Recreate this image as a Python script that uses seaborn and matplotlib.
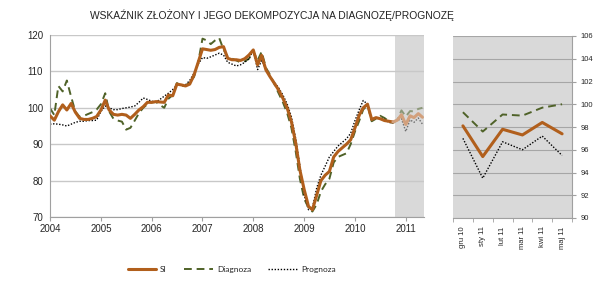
import numpy as np
import pandas as pd
import matplotlib
matplotlib.use("Agg")
import matplotlib.pyplot as plt
import matplotlib.dates as mdates
from matplotlib.lines import Line2D
import seaborn as sns

sns.set_style("white")
plt.rcParams['font.family'] = ['Liberation Sans', 'DejaVu Sans']

title = "WSKAŹNIK ZŁOŻONY I JEGO DEKOMPOZYCJA NA DIAGNOZĘ/PROGNOZĘ"
start_month = "2004-01"
n_months = 89

si = [97.8, 96.6, 98.9, 100.8, 99.4, 101.2, 98.8, 97.1, 96.8, 96.8, 97.1, 97.6,
      99.4, 102.1, 99.4, 98.2, 98.0, 98.2, 98.0, 97.1, 98.2, 99.4, 100.3, 101.5,
      101.5, 101.7, 101.6, 101.5, 103.5, 103.3, 106.5, 106.3, 106.0, 106.5, 109.0, 112.5,
      116.2, 116.0, 115.8, 116.0, 116.6, 116.8, 113.6, 113.2, 113.2, 113.0, 113.5, 114.5,
      115.9, 111.8, 114.4, 110.4, 108.5, 106.7, 104.9, 102.6, 99.9, 96.2, 90.3, 82.9,
      77.5, 72.9, 72.0, 76.0, 80.0, 81.5, 82.5, 86.5, 88.0, 89.0, 90.0, 91.2,
      94.5, 98.0, 100.0, 101.0, 96.8, 97.3, 97.0, 96.5, 96.3, 96.1, 96.6, 98.1,
      95.4, 97.8, 97.3, 98.4, 97.4]

diagnoza = [99.9, 98.0, 106.0, 104.5, 107.5, 103.0, 99.0, 97.5, 97.8, 98.3, 98.8, 99.5,
            101.0, 104.0, 99.0, 97.0, 96.5, 96.2, 94.0, 94.5, 96.5, 98.5, 100.0, 101.0,
            101.5, 101.6, 100.8, 100.0, 102.5, 103.5, 106.8, 106.0, 106.0, 107.0, 108.5, 112.5,
            119.0, 118.5, 117.5, 118.5, 119.2, 116.0, 114.0, 113.5, 113.0, 112.5, 112.8, 113.5,
            115.5, 113.0, 115.4, 111.0, 109.0, 106.5, 104.0, 101.5, 98.5, 94.5, 88.0, 80.5,
            75.0, 72.5, 71.5, 73.5, 77.0, 79.0, 80.5, 85.0, 86.5, 87.0, 87.5, 90.0,
            93.5, 96.5, 99.5, 100.8, 96.3, 97.0, 97.8, 97.2, 96.3, 95.8, 96.7, 99.3,
            97.6, 99.1, 99.0, 99.7, 100.0]

prognoza = [95.5, 95.6, 95.5, 95.3, 95.0, 95.5, 96.0, 96.3, 96.3, 96.5, 96.5, 96.6,
            99.0, 100.5, 100.0, 99.5, 99.5, 99.8, 100.0, 100.2, 100.5, 101.5, 102.7, 102.3,
            101.8, 101.6, 102.3, 103.2, 104.0, 105.0, 106.2, 106.3, 106.3, 107.5, 109.5, 112.0,
            113.8, 113.6, 114.0, 114.5, 115.0, 114.5, 112.5, 112.0, 111.5, 111.8, 112.5, 113.5,
            115.8, 110.5, 113.0, 110.5, 108.5, 107.0, 105.5, 103.5, 101.0, 97.5, 91.5, 84.0,
            76.0, 72.0, 72.5, 78.0, 81.5, 84.0, 86.5, 88.0, 89.5, 90.5, 91.5, 93.0,
            96.5, 99.5, 102.0, 101.0, 96.6, 97.2, 97.2, 96.8, 96.0, 95.8, 96.5, 97.0,
            93.5, 96.7, 96.0, 97.2, 95.5]

zoom_labels = ["gru 10", "sty 11", "lut 11", "mar 11", "kwi 11", "maj 11"]
legend_labels = ["SI", "Diagnoza", "Prognoza"]
shade_start = "2010-10-16"
shade_end = "2011-05-12"
forecast_from = 81  # index where lighter colours begin (Oct 2010)

dates = pd.date_range(start_month, periods=n_months, freq="MS")
df = pd.DataFrame({"date": dates, "SI": si, "Diagnoza": diagnoza, "Prognoza": prognoza})

c_si, c_di, c_pr = "#b15f1c", "#4f6228", "#000000"
cl_si, cl_di, cl_pr = "#d2a07c", "#8c9878", "#6e6e6e"
grid_c = "#c8c8c8"
shade_c = "#d9d9d9"

fig = plt.figure(figsize=(6.0, 2.82), dpi=100)
ax = fig.add_axes([50/600, 1-217/282, 374/600, 182/282])
ax2 = fig.add_axes([453/600, 1-218/282, 119/600, 182/282])

ax.axvspan(pd.Timestamp(shade_start), pd.Timestamp(shade_end), color=shade_c, lw=0, zorder=0)
for v in range(70, 121, 10):
    ax.axhline(v, color=grid_c, lw=1.0, zorder=0.5)

styles = [("SI", c_si, cl_si, "-", 2.2), ("Diagnoza", c_di, cl_di, (0, (4, 2.5)), 1.4),
          ("Prognoza", c_pr, cl_pr, (0, (1, 1.2)), 1.0)]
for col, c, cl, ls, lw in styles:
    d1 = df.iloc[:forecast_from + 1]
    d2 = df.iloc[forecast_from:]
    z = 3 if col == "SI" else 2
    sns.lineplot(data=d1, x="date", y=col, ax=ax, color=c, lw=lw, linestyle=ls, zorder=z)
    sns.lineplot(data=d2, x="date", y=col, ax=ax, color=cl, lw=lw, linestyle=ls, zorder=z)

ax.set_xlim(pd.Timestamp("2004-01-01"), pd.Timestamp(shade_end))
ax.set_ylim(70, 120)
ax.set_yticks(range(70, 121, 10))
ax.xaxis.set_major_locator(mdates.YearLocator())
ax.xaxis.set_major_formatter(mdates.DateFormatter("%Y"))
ax.set_xlabel("")
ax.set_ylabel("")
for s in ["top", "right"]:
    ax.spines[s].set_visible(False)
for s in ["left", "bottom"]:
    ax.spines[s].set_color("#a0a0a0")
    ax.spines[s].set_linewidth(0.8)
ax.tick_params(axis="x", direction="out", length=3, color="#a0a0a0", labelsize=7, pad=2, bottom=True)
ax.tick_params(axis="y", length=0, labelsize=7, pad=5)

# Right zoom panel
ax2.set_facecolor(shade_c)
pos = np.arange(len(zoom_labels))
zdf = pd.DataFrame({"m": pos, "SI": si[-6:], "Diagnoza": diagnoza[-6:], "Prognoza": prognoza[-6:]})
for v in range(90, 107, 2):
    ax2.axhline(v, color="#a6a6a6", lw=0.8, zorder=0.5)
for col, c, cl, ls, lw in styles:
    sns.lineplot(data=zdf, x="m", y=col, ax=ax2, color=c, lw=lw, linestyle=ls, zorder=3)
ax2.set_xlim(-0.5, 5.5)
ax2.set_ylim(90, 106)
ax2.set_yticks(range(90, 107, 2))
ax2.set_xticks(pos)
ax2.set_xticklabels(zoom_labels, rotation=90)
ax2.set_xticks(np.arange(-0.5, 6, 1), minor=True)
ax2.set_xlabel("")
ax2.set_ylabel("")
ax2.yaxis.tick_right()
for s in ["top", "left"]:
    ax2.spines[s].set_visible(False)
for s in ["right", "bottom"]:
    ax2.spines[s].set_color("#a0a0a0")
    ax2.spines[s].set_linewidth(0.8)
ax2.tick_params(axis="x", which="major", length=0, labelsize=5.5, pad=6)
ax2.tick_params(axis="x", which="minor", length=3, color="#a0a0a0", bottom=True)
ax2.tick_params(axis="y", right=True, length=3, color="#a0a0a0", labelsize=5.5, pad=3)

fig.text(0.4535, 0.945, title, ha="center", va="center", fontsize=7.4, color="#222222")

handles = [Line2D([], [], color=c, lw=lw, linestyle=ls) for _, c, _, ls, lw in styles]
fig.legend(handles, legend_labels, loc="center", bbox_to_anchor=(0.386, 0.043), ncol=3,
           frameon=False, handlelength=3.4, columnspacing=2.1, handletextpad=0.5,
           prop={"family": ["Lato", "DejaVu Sans"], "size": 6})

fig.savefig("out.png", dpi=100, facecolor="white")
